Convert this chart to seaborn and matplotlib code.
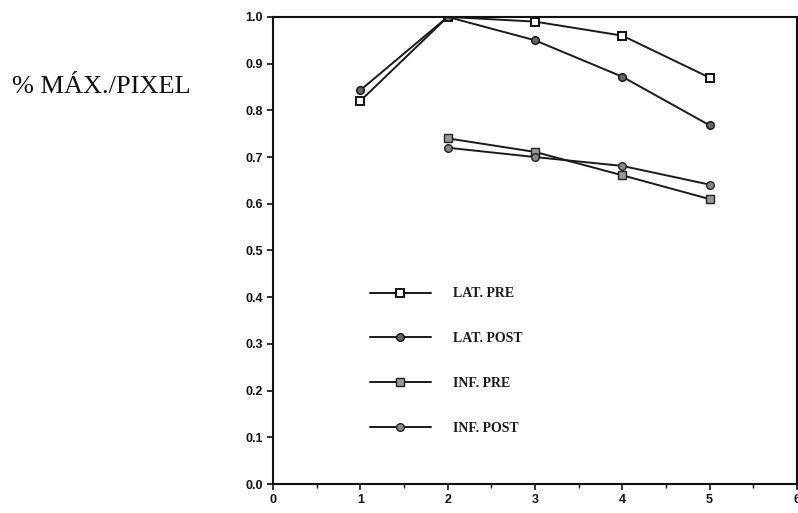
import matplotlib
matplotlib.use("Agg")
import matplotlib.pyplot as plt
import seaborn as sns
import pandas as pd
from matplotlib.ticker import MultipleLocator

sns.set_theme(style="white")

x_lat = [1, 2, 3, 4, 5]
x_inf = [2, 3, 4, 5]
lat_pre = [0.82, 1.00, 0.99, 0.96, 0.87]
lat_post = [0.843, 1.00, 0.95, 0.872, 0.768]
inf_pre = [0.74, 0.711, 0.661, 0.61]
inf_post = [0.72, 0.70, 0.681, 0.641]
labels = ["LAT. PRE", "LAT. POST", "INF. PRE", "INF. POST"]
ylabel = "% MÁX./PIXEL"

fig = plt.figure(figsize=(7.98, 5.13), dpi=100)
ax = fig.add_axes([0.342, 0.0565, 0.6567, 0.9105])

series = [
    (x_lat, lat_pre, labels[0], dict(marker="s", markersize=5.5, markerfacecolor="white", markeredgecolor="#111", markeredgewidth=1.4)),
    (x_lat, lat_post, labels[1], dict(marker="o", markersize=5.5, markerfacecolor="#666", markeredgecolor="#111", markeredgewidth=1.0)),
    (x_inf, inf_pre, labels[2], dict(marker="s", markersize=6, markerfacecolor="#999", markeredgecolor="#222", markeredgewidth=1.0)),
    (x_inf, inf_post, labels[3], dict(marker="o", markersize=5.5, markerfacecolor="#888", markeredgecolor="#222", markeredgewidth=1.0)),
]
for xs, ys, lab, mk in series:
    df = pd.DataFrame({"x": xs, "y": ys})
    sns.lineplot(data=df, x="x", y="y", ax=ax, color="#1a1a1a", linewidth=1.4,
                 label=lab, **mk)

ax.set_xlim(0, 6)
ax.set_ylim(0, 1.0)
ax.xaxis.set_major_locator(MultipleLocator(1))
ax.xaxis.set_minor_locator(MultipleLocator(0.5))
ax.yaxis.set_major_locator(MultipleLocator(0.1))
ax.set_xlabel("")
ax.set_ylabel("")
ax.set_yticklabels([f"{v:.1f}" for v in ax.get_yticks()])
for lab in ax.get_xticklabels() + ax.get_yticklabels():
    lab.set_fontfamily("Liberation Sans")
    lab.set_fontweight("bold")
    lab.set_fontsize(9)
    lab.set_color("#111")
ax.tick_params(axis="both", which="major", direction="out", length=4, width=1.2,
               color="#111", bottom=True, left=True, pad=3)
ax.tick_params(axis="x", which="minor", direction="out", length=3, width=1.0,
               color="#111", bottom=True)
for s in ax.spines.values():
    s.set_color("#111")
    s.set_linewidth(1.5)
    s.set_visible(True)

leg = ax.legend(loc="upper left", bbox_to_anchor=(0.185, 0.421), frameon=False,
                handlelength=4.4, handletextpad=1.6, labelspacing=2.3,
                borderaxespad=0, borderpad=0,
                prop={"family": "Liberation Serif", "size": 10, "weight": "bold"})
for t in leg.get_texts():
    t.set_color("#1a1a1a")

fig.text(12 / 798, 1 - 87 / 513, ylabel, fontfamily="Liberation Serif",
         fontsize=19, color="#111", ha="left", va="center")

fig.savefig("out.png", dpi=100)
